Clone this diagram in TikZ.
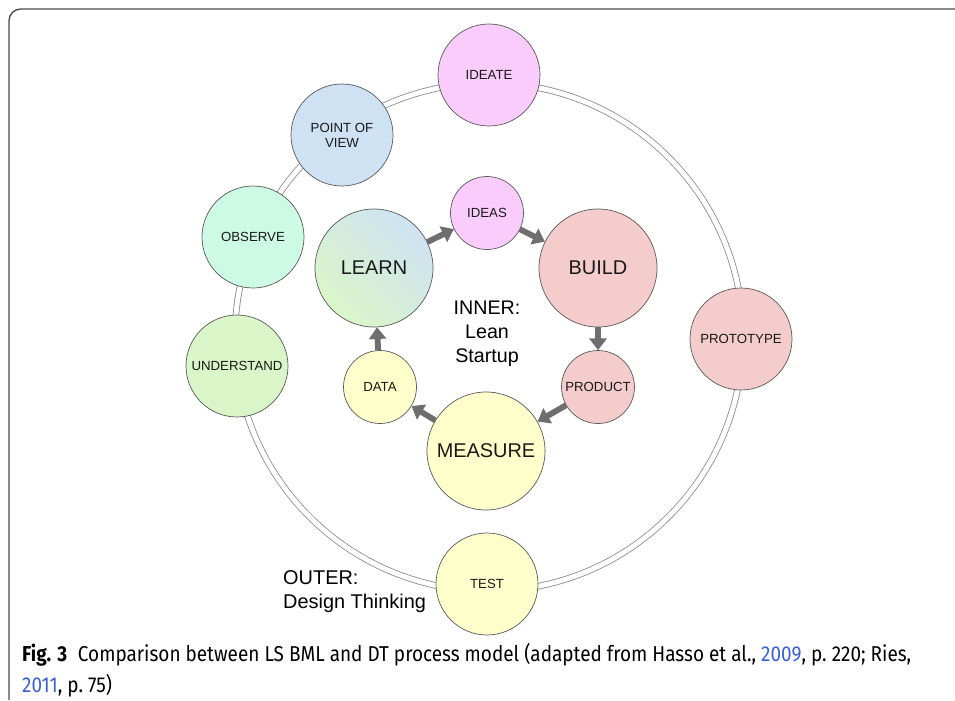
\documentclass[tikz,border=0pt]{standalone}
\usepackage{fontspec}
\setmainfont{Liberation Sans}
\newfontfamily\capfont{Fira Sans}[FakeStretch=0.88]
\usepackage{tikz}
\usetikzlibrary{arrows.meta,shapes}
\pgfdeclarelayer{background}
\pgfsetlayers{background,main}
\definecolor{ideapink}{HTML}{F9CCFC}
\definecolor{viewblue}{HTML}{CFE2F3}
\definecolor{mint}{HTML}{CDFAE4}
\definecolor{leafgreen}{HTML}{DAF6C8}
\definecolor{rosered}{HTML}{F4CCCC}
\definecolor{paleyellow}{HTML}{FFFFCC}
\definecolor{flowgray}{HTML}{6E6E6E}
\definecolor{linkblue}{HTML}{3A5FD6}
\tikzstyle{phase}=[circle,draw=black!65,line width=0.6pt,inner sep=0pt,align=center,text=black!90]
\tikzstyle{outer phase}=[phase,minimum size=3.06cm,font=\fontsize{11.3}{12.8}\selectfont]
\tikzstyle{inner phase}=[phase,minimum size=2.19cm,font=\fontsize{11.3}{12.8}\selectfont]
\tikzstyle{main phase}=[phase,minimum size=3.54cm,font=\fontsize{17}{20}\selectfont]
\tikzstyle{flow}=[draw=flowgray,line width=5pt,-{Triangle[length=10pt,width=14.5pt]}]
\tikzstyle{ring}=[draw=black!45,line width=0.7pt,double=white,double distance=4.2pt]

\begin{document}
\begin{tikzpicture}[x=0.03cm,y=-0.03cm]
    \useasboundingbox (0,0) rectangle (955,700);
    % Frame round the figure
    \draw[black!70,line width=1.2pt,rounded corners=10pt] (9,700) -- (9,9) -- (955,9);

    % Outer cycle: design thinking
    \foreach \pos/\name/\txt/\col in {{(489,75)/ideate/IDEATE/ideapink}, {(342,135)/pov/POINT OF\\VIEW/viewblue},
        {(253,237)/observe/OBSERVE/mint}, {(237,366)/understand/UNDERSTAND/leafgreen},
        {(741,339)/prototype/PROTOTYPE/rosered}, {(487,584)/test/TEST/paleyellow}}
        \node[outer phase,fill=\col] (\name) at \pos {\txt};

    % Inner cycle: lean startup
    \foreach \pos/\name/\txt/\col in {{(487,213)/ideas/IDEAS/ideapink}, {(598,387)/product/PRODUCT/rosered},
        {(380,387)/data/DATA/paleyellow}}
        \node[inner phase,fill=\col] (\name) at \pos {\txt};

    \foreach \pos/\name/\txt/\col in {{(598,268)/build/BUILD/rosered}, {(486,451)/measure/MEASURE/paleyellow}}
        \node[main phase,fill=\col] (\name) at \pos {\txt};
    \node[main phase,top color=viewblue,bottom color=leafgreen,shading angle=-45] (learn) at (374,268) {LEARN};

    \node[align=center,font=\fontsize{16.8}{20.5}\selectfont] (inner) at (487,334) {INNER:\\Lean\\Startup};
    \node[anchor=west,align=left,inner sep=0pt,font=\fontsize{17}{20.5}\selectfont] (outer) at (283,592) {OUTER:\\Design Thinking};

    % The ring behind the outer phases
    \coordinate (hub) at (489,337);
    \begin{pgfonlayer}{background}
        \draw[ring] (hub) circle [radius=7.62cm];
    \end{pgfonlayer}

    % Build - measure - learn loop
    \foreach \source/\dest in {learn/ideas, ideas/build, build/product, product/measure, measure/data, data/learn}
        \path[flow] (\source) -- (\dest);

    % Caption
    \node[anchor=base west,inner sep=0pt,font=\capfont\fontsize{18.4}{20}\selectfont] (capline) at (22,661)
        {\textbf{Fig. 3}\enspace Comparison between LS BML and DT process model (adapted from Hasso et al., {\color{linkblue}2009}, p.~220; Ries,};
    \node[anchor=base west,inner sep=0pt,font=\capfont\fontsize{18.4}{20}\selectfont] (capend) at (22,692)
        {{\color{linkblue}2011}, p.~75)};
\end{tikzpicture}
\end{document}
